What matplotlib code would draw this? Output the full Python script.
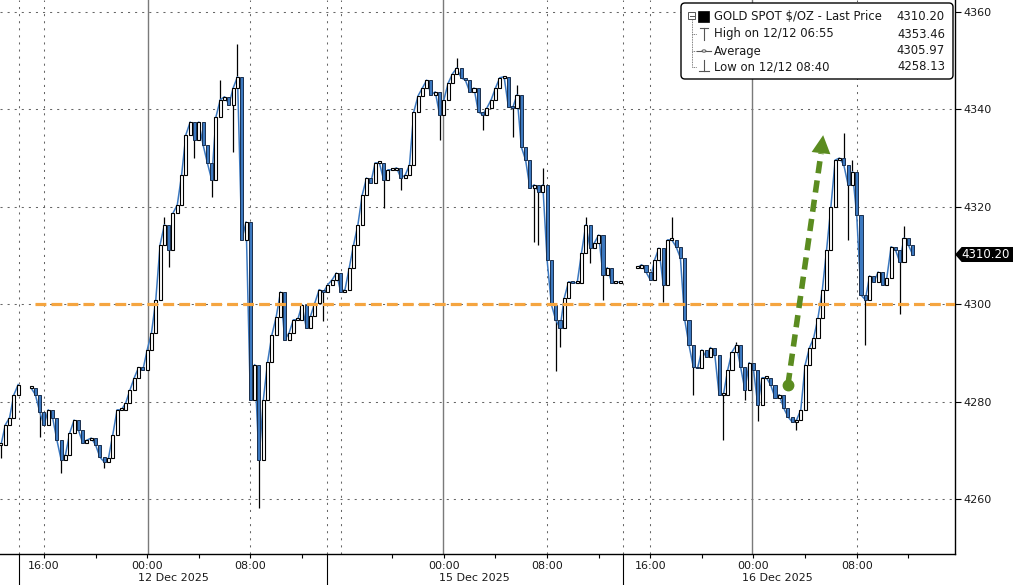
#
# Gold spot intraday candles, 11-16 Dec 2025 (Bloomberg style)
# 20-minute bars
#
import numpy as np
import matplotlib.pyplot as plt
from matplotlib.patches import FancyBboxPatch, Polygon, Rectangle, Circle
from matplotlib.lines import Line2D
from matplotlib.transforms import blended_transform_factory, IdentityTransform

nan = np.nan

# close of each 20-min bar (nan = no trading / gap in the chart)
close = np.array([
    4271.1, 4275.2, 4276.7, 4281.4, 4283.5, nan, nan,
    4282.8, 4281.4, 4277.9, 4275.2, 4278.3, 4276.7, 4272.1, 4268.0, 4269.1, 4273.6,
    4276.2, 4274.2, 4271.5, 4272.1, 4272.5, 4271.1, 4268.6, 4267.6, 4268.4, 4273.2,
    4278.3, 4278.3, 4279.7, 4282.4, 4284.9, 4287.0, 4286.5, 4290.6, 4294.1, 4300.9,
    4312.2, 4316.3, 4311.1, 4318.7, 4320.4, 4326.5, 4334.8, 4337.4, 4333.7, 4337.4,
    4332.7, 4329.0, 4325.5, 4338.5, 4342.0, 4342.6, 4341.0, 4344.4, 4346.7, 4313.2,
    4316.9, 4280.3, 4287.6, 4268.0, 4280.3, 4288.1, 4293.7, 4297.4, 4302.5, 4292.7,
    4294.1, 4296.8, 4296.8, 4299.9, 4295.1, 4297.6, 4300.3, 4303.0, 4302.5, 4304.0,
    4305.0, 4306.4, 4302.5, 4303.0, 4307.5, 4312.2, 4316.3, 4322.4, 4325.9, 4324.9,
    4329.0, 4329.0, 4325.5, 4327.6, 4327.6, 4328.0, 4325.9, 4326.5, 4328.6, 4339.5,
    4342.8, 4344.4, 4346.0, 4343.0, 4343.6, 4338.9, 4342.0, 4345.4, 4347.3, 4348.5,
    4346.5, 4346.0, 4343.6, 4344.4, 4339.5, 4338.9, 4340.3, 4342.0, 4344.4, 4346.5,
    4346.7, 4340.5, 4340.3, 4343.0, 4332.3, 4329.6, 4323.9, 4324.5, 4323.1, 4324.5,
    4309.1, 4299.9, 4296.8, 4295.1, 4301.3, 4304.6, 4304.4, 4304.4, 4310.5, 4316.3,
    4311.5, 4312.6, 4314.2, 4306.0, 4307.5, 4304.4, 4304.4, 4304.6, nan, nan, nan,
    4307.5, 4308.1, 4306.6, 4305.0, 4309.1, 4311.5, 4304.0, 4313.2, 4313.2, 4311.8,
    4309.5, 4296.8, 4291.6, 4287.1, 4286.9, 4290.6, 4289.2, 4291.1, 4289.6, 4281.4,
    4281.4, 4286.5, 4290.2, 4291.6, 4287.1, 4282.4, 4288.0, 4286.5, 4279.3, 4284.9,
    4284.9, 4283.4, 4280.8, 4281.4, 4278.7, 4276.9, 4275.8, 4276.2, 4278.3, 4287.5,
    4291.0, 4293.1, 4297.2, 4302.9, 4311.2, 4320.0, 4329.6, 4330.0, 4328.6, 4324.5,
    4327.2, 4318.3, 4301.9, 4300.9, 4305.8, 4304.6, 4306.6, 4304.0, 4305.4, 4311.8,
    4311.2, 4308.7, 4313.6, 4312.2, 4310.2,
])

# visible wick tips (bar index -> price)
high_wicks = {38: 4318.0, 51: 4346.0, 55: 4353.46, 106: 4350.5, 120: 4345.0,
              126: 4328.0, 136: 4318.0, 156: 4318.0, 171: 4292.3, 196: 4335.1,
              198: 4329.6, 210: 4316.1}
low_wicks = {0: 4268.4, 9: 4272.7, 14: 4265.3, 24: 4266.3, 39: 4307.7, 45: 4330.0,
             49: 4322.0, 54: 4331.2, 60: 4258.13, 75: 4296.5, 89: 4319.8, 93: 4323.5,
             102: 4333.7, 112: 4335.8, 119: 4334.3, 124: 4312.8, 125: 4312.2,
             129: 4286.3, 130: 4291.2, 137: 4308.5, 140: 4300.9, 154: 4300.5,
             161: 4281.4, 168: 4272.1, 173: 4280.3, 176: 4276.1, 185: 4274.2,
             197: 4313.2, 201: 4291.6, 209: 4297.9}

# axis labelling (positions in bar units)
major_ticks = [10, 34, 58, 103, 127, 151, 175, 199]
major_labels = ['16:00', '00:00', '08:00', '00:00', '08:00', '16:00', '00:00', '08:00']
minor_ticks = [22, 46, 70, 91, 115, 139, 163, 187, 211]
day_lines = [34.2, 102.8, 174.7]              # solid midnight lines
dotted_lines = [4.2, 10, 58, 75.8, 79.1, 127, 144.7, 151, 199]
session_breaks = [4.2, 75.8, 144.7]
date_pos = [40.2, 110.2, 180.5]
date_labels = ['12 Dec 2025', '15 Dec 2025', '16 Dec 2025']
y_ticks = [4260, 4280, 4300, 4320, 4340, 4360]

level = 4300                                  # orange reference line
level_start = 7.9
arrow_from = (183.0, 4283.4)
arrow_to = (191.2, 4334.7)
shaft_end = (190.7, 4331.0)

last_price = 4310.20
legend_rows = [('GOLD SPOT $/OZ - Last Price', '4310.20'),
               ('High on 12/12 06:55', '4353.46'),
               ('Average', '4305.97'),
               ('Low on 12/12 08:40', '4258.13')]

BLUE = '#3b78c0'
ORANGE = '#f5a540'
GREEN = '#5b8c20'
GRID = '#666666'
TXT = '#1a1a1a'

W, H = 1013, 585
fig = plt.figure(figsize=(W / 100, H / 100), dpi=100)
fig.patch.set_facecolor('white')
ax = fig.add_axes([0, 1 - 554 / H, 955 / W, 554 / H])

# candles
x = np.arange(len(close))
prev = np.concatenate([[nan], close[:-1]])
opn = np.where(np.isnan(prev), close, prev)
hi = np.fmax(opn, close)
lo = np.fmin(opn, close)
for i, v in high_wicks.items():
    hi[i] = max(hi[i], v)
for i, v in low_wicks.items():
    lo[i] = min(lo[i], v)

ok = ~np.isnan(close)
up = ok & (close >= opn)
dn = ok & (close < opn)
body_lo = np.fmin(opn, close)
body = np.maximum(np.abs(close - opn), 0.3)

ax.vlines(x[ok], lo[ok], hi[ok], color='black', lw=0.9, zorder=2)
ax.plot(x, close, color=BLUE, lw=1.1, zorder=2.5)
ax.bar(x[up], body[up], bottom=body_lo[up], width=0.7, color='white',
       edgecolor='black', lw=0.8, zorder=3)
ax.bar(x[dn], body[dn], bottom=body_lo[dn], width=0.7, color=BLUE,
       edgecolor='#1a2f4d', lw=0.7, zorder=3)

# grid
dots = (0, (2, 4.8))
for p in y_ticks:
    ax.axhline(p, color=GRID, lw=0.75, ls=dots, zorder=1)
for b in dotted_lines:
    ax.axvline(b, color=GRID, lw=0.75, ls=dots, zorder=1)
for b in day_lines:
    ax.axvline(b, color='#7a7a7a', lw=1.0, zorder=1)

ax.set_xlim(-0.23, 221.86)
ax.set_ylim(4248.7, 4362.46)

# orange level line
ax.plot([level_start, 221.86], [level, level], color=ORANGE, lw=2.3,
        ls=(0, (3.4, 1.6)), dash_capstyle='butt', zorder=5)

# green dashed arrow
ax.plot([arrow_from[0], shaft_end[0]], [arrow_from[1], shaft_end[1]], color=GREEN,
        lw=4.0, ls=(0, (2.2, 1.3)), dash_capstyle='butt', zorder=6)
ax.plot([arrow_from[0]], [arrow_from[1]], 'o', color=GREEN, ms=7.5, zorder=6)
ax.annotate('', xy=arrow_to, xytext=shaft_end,
            arrowprops=dict(arrowstyle='-|>,head_length=0.65,head_width=0.34',
                            mutation_scale=20, color=GREEN, lw=0,
                            shrinkA=0, shrinkB=0), zorder=7)

# axes cosmetics
for s in ['left', 'top']:
    ax.spines[s].set_visible(False)
for s in ['right', 'bottom']:
    ax.spines[s].set_color('black')
    ax.spines[s].set_linewidth(1.0)

ax.yaxis.tick_right()
ax.set_yticks(y_ticks)
ax.set_yticklabels([str(v) for v in y_ticks])
ax.tick_params(axis='y', length=4, width=0.8, pad=2, labelsize=8, labelcolor=TXT)
ax.set_xticks(major_ticks)
ax.set_xticklabels(major_labels)
ax.set_xticks(minor_ticks, minor=True)
ax.tick_params(axis='x', which='both', length=3, width=0.8, pad=2,
               labelsize=8, labelcolor=TXT)

bt = blended_transform_factory(ax.transData, ax.transAxes)
for b in session_breaks:
    ax.plot([b, b], [0, -0.06], transform=bt, color='black', lw=0.8, clip_on=False)
for p, lab in zip(date_pos, date_labels):
    ax.text(p, -0.043, lab, transform=bt, ha='center', va='center',
            fontsize=8, color=TXT)

# last price tag on the right axis
tb = blended_transform_factory(fig.transFigure, ax.transData)
hh = 1.4
tag = Polygon([(956 / W, last_price), (962 / W, last_price + hh), (1.0, last_price + hh),
               (1.0, last_price - hh), (962 / W, last_price - hh)],
              closed=True, transform=tb, color='black', clip_on=False, zorder=10)
fig.patches.append(tag)
fig.text(986 / W, last_price, f'{last_price:.2f}', transform=tb, ha='center',
         va='center', fontsize=8.5, color='white', zorder=11)


# legend box (drawn in figure pixels)
def fx(px):
    return px / W


def fy(py):
    return 1 - py / H


box = FancyBboxPatch((681, H - 79), 272, 76, boxstyle='round,pad=0,rounding_size=4',
                     transform=IdentityTransform(), facecolor='white',
                     edgecolor='black', lw=1.0, zorder=20)
fig.patches.append(box)

row_y = [17, 34, 51, 67]
for (lab, val), yy in zip(legend_rows, row_y):
    fig.text(fx(714), fy(yy), lab, ha='left', va='center', fontsize=8.4,
             color=TXT, zorder=21)
    fig.text(fx(945), fy(yy), val, ha='right', va='center', fontsize=8.4,
             color=TXT, zorder=21)

icon = '#555555'
def fline(xs, ys, **kw):
    fig.add_artist(Line2D([fx(v) for v in xs], [fy(v) for v in ys],
                          transform=fig.transFigure, zorder=21, **kw))

fig.add_artist(Rectangle((fx(688), fy(19)), 7 / W, 7 / H, transform=fig.transFigure,
                         facecolor='white', edgecolor=icon, lw=0.7, zorder=21))
fline([689.5, 693.5], [15.5, 15.5], color=icon, lw=0.7)
fig.add_artist(Rectangle((fx(698), fy(22)), 11 / W, 11 / H, transform=fig.transFigure,
                         facecolor='black', edgecolor='black', lw=0.5, zorder=21))
fline([691.5, 691.5], [20, 67], color=icon, lw=0.6, ls=(0, (1, 1)))
for yy in [34, 51, 67]:
    fline([691.5, 697], [yy, yy], color=icon, lw=0.6, ls=(0, (1, 1)))
fline([700, 708], [28, 28], color=icon, lw=0.8)
fline([704, 704], [28, 40], color=icon, lw=0.8)
fline([697, 711], [51, 51], color=icon, lw=0.8)
fig.add_artist(Circle((fx(704), fy(51)), 2 / W, transform=fig.transFigure,
                      facecolor='white', edgecolor=icon, lw=0.7, zorder=22))
fline([704, 704], [60, 71], color=icon, lw=0.8)
fline([699, 709], [71, 71], color=icon, lw=0.8)

fig.savefig('out.png', dpi=100)
